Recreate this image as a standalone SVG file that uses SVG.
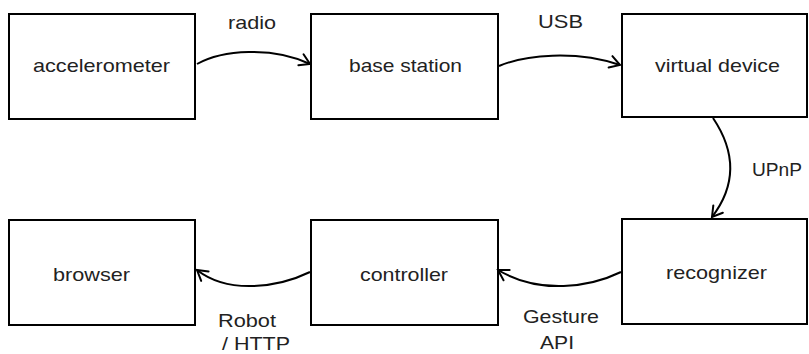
<svg xmlns="http://www.w3.org/2000/svg" width="809" height="354" viewBox="0 0 809 354">
  <style>
    .box { fill: #ffffff; stroke: #000000; stroke-width: 2; }
    .lbl { font-family: "Liberation Sans", Arial, sans-serif; font-size: 18.5px; fill: #222222; }
    .edge { fill: none; stroke: #000000; stroke-width: 2; }
  </style>
  <defs>
    <marker id="arrow" markerUnits="userSpaceOnUse" markerWidth="14" markerHeight="16" viewBox="-12 -8 14 16" refX="0" refY="0" orient="auto" overflow="visible">
      <path d="M-10,-6 L0,0 L-10,6" fill="none" stroke="#000000" stroke-width="2" stroke-linecap="round" stroke-linejoin="miter"/>
    </marker>
  </defs>
  <rect width="809" height="354" fill="#ffffff"/>

  <g id="accelerometer">
    <rect class="box" x="9" y="14" width="186" height="105"/>
    <text class="lbl" x="33" y="72" textLength="137" lengthAdjust="spacingAndGlyphs">accelerometer</text>
  </g>
  <g id="base-station">
    <rect class="box" x="311" y="14" width="187" height="105"/>
    <text class="lbl" x="349" y="72" textLength="113" lengthAdjust="spacingAndGlyphs">base station</text>
  </g>
  <g id="virtual-device">
    <rect class="box" x="622" y="14" width="185" height="103"/>
    <text class="lbl" x="655" y="72" textLength="125" lengthAdjust="spacingAndGlyphs">virtual device</text>
  </g>
  <g id="browser">
    <rect class="box" x="9" y="220" width="186" height="105"/>
    <text class="lbl" x="53" y="281" textLength="77" lengthAdjust="spacingAndGlyphs">browser</text>
  </g>
  <g id="controller">
    <rect class="box" x="311" y="220" width="187" height="105"/>
    <text class="lbl" x="360" y="281" textLength="88" lengthAdjust="spacingAndGlyphs">controller</text>
  </g>
  <g id="recognizer">
    <rect class="box" x="622" y="219" width="185" height="105"/>
    <text class="lbl" x="666" y="279" textLength="101" lengthAdjust="spacingAndGlyphs">recognizer</text>
  </g>

  <g id="connectors">
    <path class="edge" d="M197,64 C222,50 272,46 310,64" marker-end="url(#arrow)"/>
    <path class="edge" d="M499,66 C525,55 575,50 620,65" marker-end="url(#arrow)"/>
    <path class="edge" d="M713,118 Q748,170 712,217" marker-end="url(#arrow)"/>
    <path class="edge" d="M621,272 C590,287 540,295 498,270" marker-end="url(#arrow)"/>
    <path class="edge" d="M310,272 C279,287 229,295 197,270" marker-end="url(#arrow)"/>
    <text class="lbl" x="228" y="29" textLength="48" lengthAdjust="spacingAndGlyphs">radio</text>
    <text class="lbl" x="538" y="28" textLength="45" lengthAdjust="spacingAndGlyphs">USB</text>
    <text class="lbl" x="752" y="176" textLength="50" lengthAdjust="spacingAndGlyphs">UPnP</text>
    <text class="lbl" x="523" y="323" textLength="76" lengthAdjust="spacingAndGlyphs">Gesture</text>
    <text class="lbl" x="540" y="349" textLength="34" lengthAdjust="spacingAndGlyphs">API</text>
    <text class="lbl" x="218" y="327" textLength="58" lengthAdjust="spacingAndGlyphs">Robot</text>
    <text class="lbl" x="222" y="350" textLength="68" lengthAdjust="spacingAndGlyphs">/ HTTP</text>
  </g>
</svg>
